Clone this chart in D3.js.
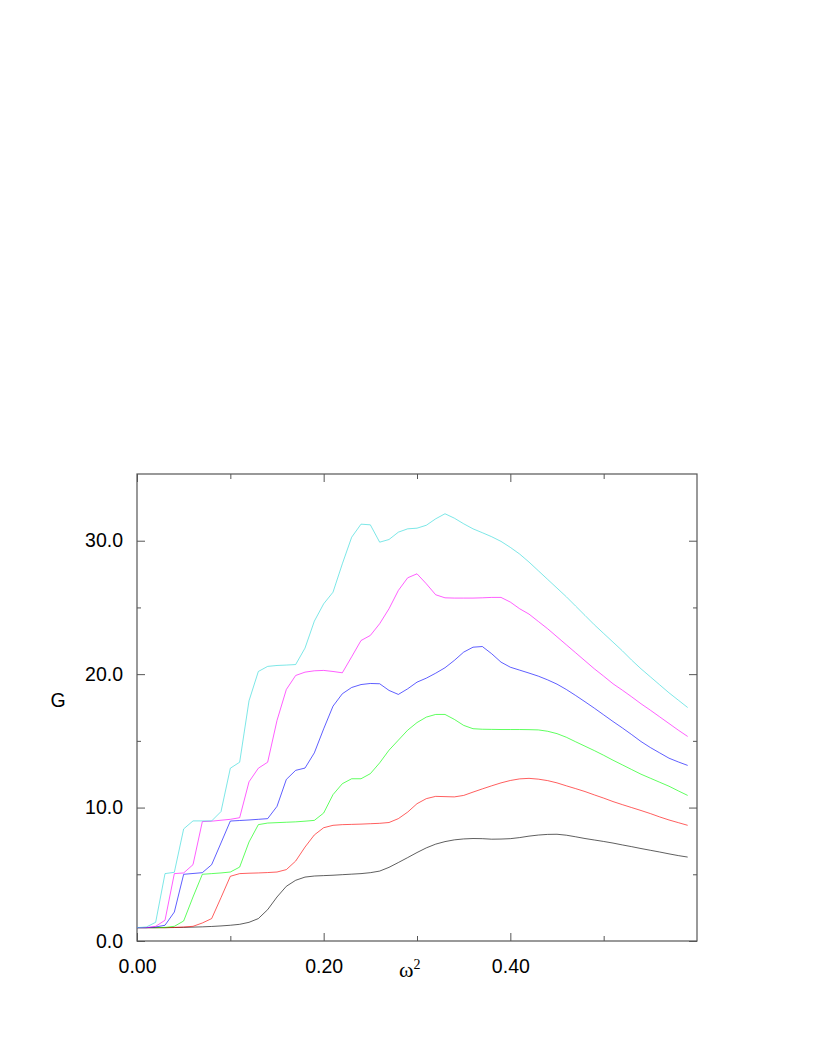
<!DOCTYPE html>
<html>
<head>
<meta charset="utf-8">
<script src="https://cdn.jsdelivr.net/npm/d3@7"></script>
<style>
body { margin:0; background:#fff; }
text { font-family: "Liberation Sans", Arial, sans-serif; }
</style>
</head>
<body>
<svg></svg>
<script>
// omega^2 sample points
var omega2 = [0.00,0.01,0.02,0.03,0.04,0.05,0.06,0.07,0.08,0.09,
              0.10,0.11,0.12,0.13,0.14,0.15,0.16,0.17,0.18,0.19,
              0.20,0.21,0.22,0.23,0.24,0.25,0.26,0.27,0.28,0.29,
              0.30,0.31,0.32,0.33,0.34,0.35,0.36,0.37,0.38,0.39,
              0.40,0.41,0.42,0.43,0.44,0.45,0.46,0.47,0.48,0.49,
              0.50,0.51,0.52,0.53,0.54,0.55,0.56,0.57,0.58,0.59]

var gBlack = [1.0,1.0,1.0,1.0,1.01,1.02,1.04,1.06,1.09,1.13,
              1.18,1.25,1.4,1.68,2.35,3.3,4.1,4.55,4.79,4.87,
              4.9,4.93,4.97,5.01,5.05,5.12,5.24,5.52,5.88,6.25,
              6.63,6.98,7.26,7.45,7.58,7.65,7.68,7.67,7.63,7.64,
              7.67,7.75,7.86,7.94,7.99,8.0,7.93,7.81,7.68,7.57,
              7.46,7.34,7.2,7.07,6.93,6.8,6.67,6.53,6.4,6.29]

var gRed = [1.0,1.0,1.0,1.0,1.02,1.05,1.1,1.35,1.68,3.25,
            4.85,5.05,5.08,5.1,5.13,5.17,5.35,5.99,7.04,7.95,
            8.49,8.67,8.72,8.74,8.76,8.79,8.82,8.88,9.17,9.66,
            10.29,10.67,10.84,10.82,10.8,10.91,11.16,11.4,11.63,11.85,
            12.03,12.15,12.19,12.13,12.02,11.85,11.63,11.42,11.2,10.95,
            10.71,10.45,10.22,10.0,9.78,9.55,9.3,9.07,8.87,8.67]

var gGreen = [1.0,1.0,1.0,1.02,1.1,1.5,3.3,5.0,5.05,5.1,
              5.17,5.54,7.42,8.72,8.84,8.87,8.9,8.93,8.98,9.04,
              9.59,10.97,11.79,12.16,12.16,12.54,13.35,14.3,15.05,15.8,
              16.37,16.78,16.98,16.98,16.61,16.16,15.91,15.87,15.86,15.85,
              15.85,15.85,15.84,15.82,15.72,15.54,15.27,14.93,14.6,14.27,
              13.92,13.55,13.2,12.85,12.5,12.2,11.9,11.6,11.25,10.91]

var gBlue = [1.0,1.0,1.05,1.18,2.17,5.0,5.06,5.12,5.72,7.35,
             8.99,9.03,9.07,9.12,9.17,10.09,12.11,12.79,12.96,14.1,
             15.9,17.6,18.53,19.0,19.22,19.3,19.28,18.78,18.48,18.9,
             19.4,19.7,20.07,20.48,21.03,21.65,22.02,22.07,21.53,20.9,
             20.52,20.3,20.08,19.85,19.57,19.25,18.85,18.4,17.93,17.45,
             16.95,16.45,15.97,15.47,14.95,14.5,14.1,13.7,13.42,13.16]

var gMagenta = [1.0,1.0,1.1,1.55,5.05,5.1,5.72,8.95,8.98,9.05,
                9.12,9.24,11.93,12.95,13.4,16.53,18.85,19.9,20.15,20.25,
                20.28,20.2,20.1,21.3,22.52,22.9,23.78,24.9,26.27,27.22,
                27.52,26.77,25.95,25.72,25.7,25.7,25.7,25.72,25.75,25.75,
                25.4,24.9,24.5,23.95,23.4,22.8,22.2,21.6,21.0,20.4,
                19.85,19.28,18.8,18.3,17.78,17.3,16.8,16.3,15.8,15.33]

var gCyan = [1.0,1.05,1.4,5.05,5.15,8.4,9.0,9.0,9.0,9.7,
             12.95,13.4,18.0,20.2,20.58,20.65,20.68,20.72,21.95,23.97,
             25.27,26.14,28.27,30.26,31.24,31.19,29.89,30.09,30.64,30.89,
             30.94,31.16,31.64,32.02,31.69,31.27,30.89,30.6,30.3,29.95,
             29.5,29.0,28.4,27.75,27.1,26.45,25.8,25.1,24.4,23.7,
             23.05,22.4,21.75,21.05,20.4,19.8,19.2,18.6,18.05,17.5]

var seriesList = [gBlack, gRed, gGreen, gBlue, gMagenta, gCyan]
var seriesColors = ["#000000", "#ff0000", "#00ff00", "#0000ff", "#ff00ff", "#30d8d8"]

var xMajor = [0, 0.2, 0.4]
var xMinor = [0.1, 0.3, 0.5]
var yMajor = [0, 10, 20, 30]
var yMinor = [5, 15, 25]

var screen = {width:817, height:1058}
var margins = {top:474, left:137}
var width = 560
var height = 467

var svg = d3.select("svg")
    .attr("width", screen.width)
    .attr("height", screen.height)

var graph = svg.append("g")
    .attr("id","graph")
    .attr("transform","translate("+margins.left+","+margins.top+")")

var xScale = d3.scaleLinear()
    .domain([0,0.6])
    .range([0,width])
var yScale = d3.scaleLinear()
    .domain([0,35])
    .range([height,0])

// major ticks with labels (bottom, left)
var xAxis = d3.axisBottom(xScale).tickValues(xMajor).tickSizeInner(-8).tickSizeOuter(0)
    .tickPadding(18).tickFormat(d3.format(".2f"))
var yAxis = d3.axisLeft(yScale).tickValues(yMajor).tickSizeInner(-8).tickSizeOuter(0)
    .tickPadding(14).tickFormat(d3.format(".1f"))

graph.append("g").attr("class","axis").attr("transform","translate(0,"+height+")").call(xAxis)
graph.append("g").attr("class","axis").call(yAxis)

// minor ticks + mirrored ticks on top and right
graph.append("g").attr("class","axis").attr("transform","translate(0,"+height+")")
    .call(d3.axisBottom(xScale).tickValues(xMinor).tickSizeInner(-5).tickSizeOuter(0).tickFormat(""))
graph.append("g").attr("class","axis")
    .call(d3.axisLeft(yScale).tickValues(yMinor).tickSizeInner(-4).tickSizeOuter(0).tickFormat(""))
graph.append("g").attr("class","axis")
    .call(d3.axisTop(xScale).tickValues(xMajor).tickSizeInner(-8).tickSizeOuter(0).tickFormat(""))
graph.append("g").attr("class","axis")
    .call(d3.axisTop(xScale).tickValues(xMinor).tickSizeInner(-5).tickSizeOuter(0).tickFormat(""))
graph.append("g").attr("class","axis").attr("transform","translate("+width+",0)")
    .call(d3.axisRight(yScale).tickValues(yMajor).tickSizeInner(-8).tickSizeOuter(0).tickFormat(""))
graph.append("g").attr("class","axis").attr("transform","translate("+width+",0)")
    .call(d3.axisRight(yScale).tickValues(yMinor).tickSizeInner(-4).tickSizeOuter(0).tickFormat(""))

graph.selectAll(".axis .domain").remove()
graph.selectAll(".axis line").attr("stroke","#555").attr("stroke-width",1)
graph.selectAll(".axis text")
    .attr("fill","#000")
    .style("font-family","'Liberation Sans', Arial, sans-serif")
    .style("font-size","19.5px")

// frame
graph.append("rect")
    .attr("x",0).attr("y",0)
    .attr("width",width).attr("height",height)
    .attr("fill","none")
    .attr("stroke","#555")
    .attr("stroke-width",1.2)

var lineGenerator = d3.line()
    .x(function(g,i){return xScale(omega2[i])})
    .y(function(g){return yScale(g)})

graph.selectAll(".series")
    .data(seriesList)
    .enter()
    .append("path")
    .attr("class","series")
    .attr("fill","none")
    .attr("stroke",function(d,i){return seriesColors[i]})
    .attr("stroke-width",0.9)
    .attr("stroke-opacity",0.7)
    .attr("d",lineGenerator)

// axis titles
svg.append("text")
    .attr("x",58).attr("y",707)
    .attr("text-anchor","middle")
    .style("font-size","19.5px")
    .text("G")

var xTitle = svg.append("text")
    .attr("x",399).attr("y",977)
    .style("font-family","'Liberation Serif', 'Times New Roman', serif")
    .style("font-size","22px")
xTitle.append("tspan").text("ω")
xTitle.append("tspan").attr("dy",-8).style("font-size","14px").text("2")
</script>
</body>
</html>
